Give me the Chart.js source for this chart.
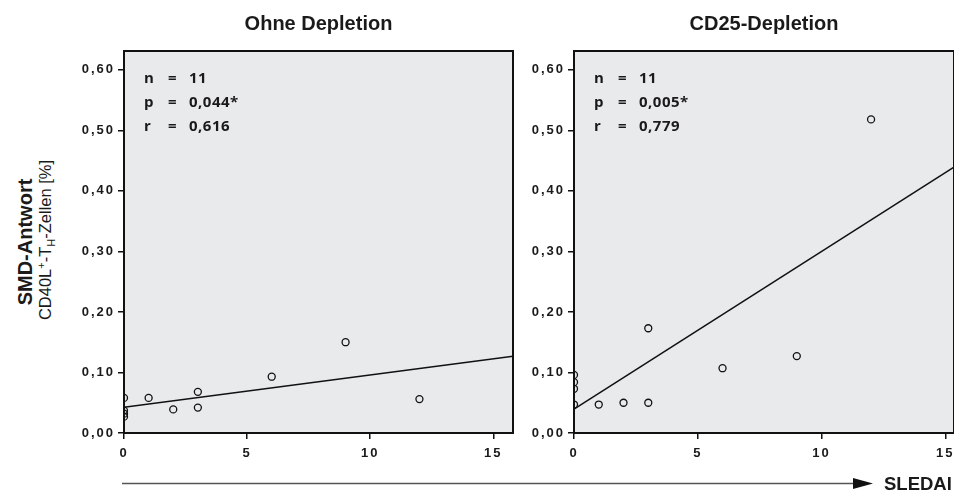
<!DOCTYPE html>
<html>
<head>
<meta charset="utf-8">
<script src="https://cdn.jsdelivr.net/npm/chart.js@4"></script>
<style>
  body { margin: 0; background: #fff; }
  #wrap { position: relative; width: 954px; height: 492px; overflow: hidden; font-family: "Liberation Sans", Arial, sans-serif; color: #1a1a1a; }
  canvas { position: absolute; top: 0; }
  .ylab { position: absolute; white-space: nowrap; transform: translate(-50%, -50%) rotate(-90deg); }
</style>
</head>
<body>
<div id="wrap">
  <canvas id="ohne" width="460" height="470" style="left:60px"></canvas>
  <canvas id="cd25" width="444" height="470" style="left:510px"></canvas>
  <div class="ylab" style="left:25px;top:242px;font-weight:bold;font-size:20px">SMD-Antwort</div>
  <div class="ylab" style="left:46px;top:240px;font-size:16.5px">CD40L<sup style="font-size:11px">+</sup>-T<sub style="font-size:11px">H</sub>-Zellen [%]</div>
  <svg width="954" height="492" style="position:absolute;left:0;top:0">
    <line x1="122" y1="483.5" x2="856" y2="483.5" stroke="#555" stroke-width="1.3"/>
    <polygon points="853,478 873,483.5 853,489" fill="#111"/>
    <text x="884" y="490" font-family="Liberation Sans, Arial, sans-serif" font-weight="bold" font-size="18.5" fill="#1a1a1a">SLEDAI</text>
  </svg>
</div>
<script>
// SLEDAI per Patient, SMD-Antwort (CD40L+ TH-Zellen, %)
const sledai = [0, 0, 0, 0, 1, 2, 3, 3, 6, 9, 12];
const ohneDepletion = [0.058, 0.037, 0.032, 0.027, 0.058, 0.039, 0.068, 0.042, 0.093, 0.150, 0.056];
const cd25Depletion = [0.096, 0.084, 0.073, 0.047, 0.047, 0.050, 0.173, 0.050, 0.107, 0.127, 0.518];

const yTicks = [0, 0.1, 0.2, 0.3, 0.4, 0.5, 0.6];
const xTicks = [0, 5, 10, 15];

const statKeys = ["n", "p", "r"];
const statsOhne = ["11", "0,044*", "0,616"];
const statsCd25 = ["11", "0,005*", "0,779"];

function linFit(xs, ys) {
    const n = xs.length;
    const mx = xs.reduce((s, v) => s + v, 0) / n;
    const my = ys.reduce((s, v) => s + v, 0) / n;
    let sxy = 0, sxx = 0;
    xs.forEach((x, i) => { sxy += (x - mx) * (ys[i] - my); sxx += (x - mx) * (x - mx); });
    const m = sxy / sxx;
    return { m, b: my - m * mx };
}

const panelDeco = {
    id: "panelDeco",
    beforeDraw(chart, args, opts) {
        const { ctx, chartArea: a } = chart;
        ctx.save();
        ctx.fillStyle = "#e9eaec";
        ctx.fillRect(a.left, a.top, a.width, a.height);
        ctx.restore();
        ctx.letterSpacing = "2px";
    },
    afterDraw(chart, args, opts) {
        const { ctx, chartArea: a } = chart;
        ctx.save();
        ctx.letterSpacing = "0px";
        ctx.strokeStyle = "#111";
        ctx.lineWidth = 2;
        ctx.strokeRect(a.left, a.top, a.width, a.height);

        ctx.fillStyle = "#1a1a1a";
        ctx.textAlign = "center";
        ctx.textBaseline = "alphabetic";
        ctx.font = "bold 20px 'Liberation Sans', Arial, sans-serif";
        ctx.fillText(opts.title, (a.left + a.right) / 2, 30);

        ctx.textAlign = "left";
        ctx.font = "bold 15px 'Open Sans', sans-serif";
        ctx.letterSpacing = "0.5px";
        statKeys.forEach((k, i) => {
            const y = a.top + 32 + i * 24;
            ctx.fillText(k, a.left + 20, y);
            ctx.fillText("=", a.left + 44, y);
            ctx.fillText(opts.stats[i], a.left + 65, y);
        });
        ctx.restore();
    }
};

function makePanel(id, values, title, stats, xMax, padRight) {
    const fit = linFit(sledai, values);
    const tickFont = { family: "'Liberation Sans', Arial, sans-serif", size: 13, weight: "bold" };
    new Chart(document.getElementById(id), {
        type: "scatter",
        data: {
            datasets: [{
                data: sledai.map((x, i) => ({ x, y: values[i] })),
                pointRadius: 3.5,
                pointBorderWidth: 1.3,
                borderColor: "#111",
                backgroundColor: "rgba(0,0,0,0)",
                clip: 0,
            }, {
                data: [{ x: 0, y: fit.b }, { x: xMax, y: fit.b + fit.m * xMax }],
                showLine: true,
                borderColor: "#111",
                borderWidth: 1.6,
                pointRadius: 0,
                clip: 0,
            }]
        },
        options: {
            responsive: false,
            animation: false,
            events: [],
            layout: { autoPadding: false, padding: { left: 0, top: 51, right: padRight, bottom: 7 } },
            plugins: {
                legend: { display: false },
                tooltip: { enabled: false },
                panelDeco: { title, stats }
            },
            scales: {
                x: {
                    type: "linear",
                    min: 0,
                    max: xMax,
                    afterBuildTicks: s => { s.ticks = xTicks.map(v => ({ value: v })); },
                    afterFit: s => { s.height = 30; s.paddingLeft = 0; s.paddingRight = 0; },
                    ticks: { color: "#1a1a1a", font: tickFont, padding: 7, maxRotation: 0, callback: v => String(v) },
                    grid: { drawOnChartArea: false, tickLength: 6, color: "#111", lineWidth: 1.5 },
                    border: { display: false }
                },
                y: {
                    min: 0,
                    max: 0.631,
                    afterBuildTicks: s => { s.ticks = yTicks.map(v => ({ value: v })); },
                    afterFit: s => { s.width = 64; },
                    ticks: { color: "#1a1a1a", font: tickFont, padding: 3, callback: v => v.toFixed(2).replace(".", ",") },
                    grid: { drawOnChartArea: false, tickLength: 6, color: "#111", lineWidth: 1.5 },
                    border: { display: false }
                }
            }
        },
        plugins: [panelDeco]
    });
}

document.addEventListener("DOMContentLoaded", () => {
    makePanel("ohne", ohneDepletion, "Ohne Depletion", statsOhne, 15.8, 7);
    makePanel("cd25", cd25Depletion, "CD25-Depletion", statsCd25, 15.35, 0);
});
</script>
</body>
</html>
